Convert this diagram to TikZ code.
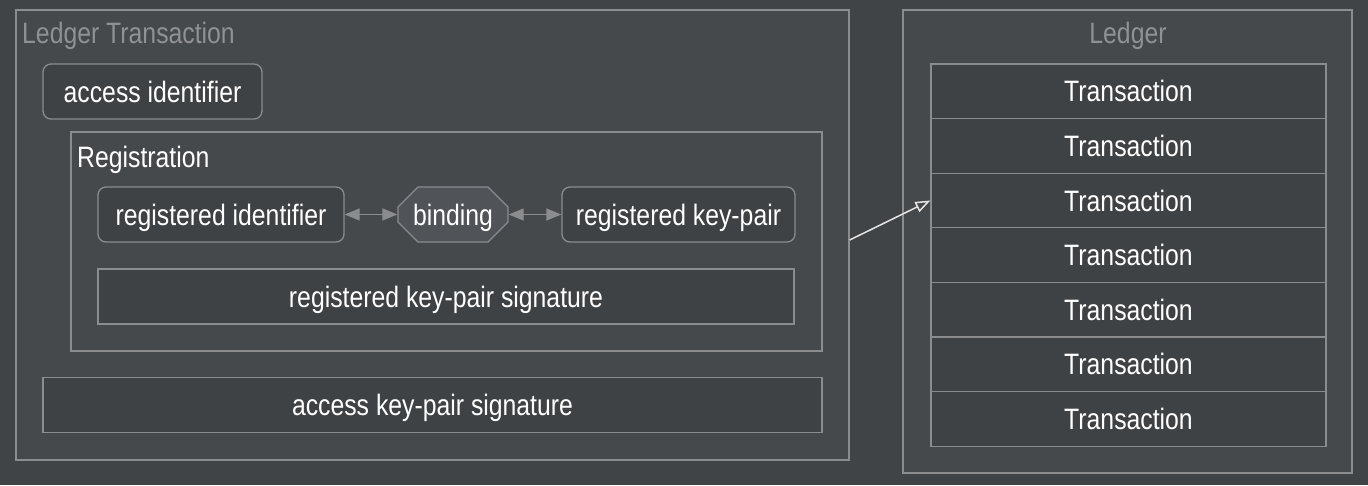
\documentclass[tikz,border=0pt]{standalone}
\usepackage{fontspec}
\setmainfont[FakeStretch=0.84]{Liberation Sans}
\usetikzlibrary{shapes.misc,arrows.meta}
\definecolor{bg}{HTML}{414447}
\definecolor{clfill}{HTML}{46494C}
\definecolor{ndfill}{HTML}{3F4245}
\definecolor{bdfill}{HTML}{505357}
\definecolor{edge}{HTML}{8A8C8E}
\definecolor{lbl}{HTML}{8F9193}
\definecolor{arr}{HTML}{E6E6E6}
\tikzset{
  txt/.style={font=\fontsize{29.5}{34}\selectfont, text height=21pt, text depth=0pt, inner sep=0pt},
  cluster/.style={draw=edge, fill=clfill, line width=1.3pt, rectangle, inner sep=0pt},
  roundbox/.style={txt, text=white, draw=edge, fill=ndfill, line width=1.3pt, rounded corners=8pt, minimum height=55pt},
  sqbox/.style={txt, text=white, draw=edge, fill=ndfill, line width=1.3pt, minimum height=55pt},
  octbox/.style={txt, text=white, draw=edge, fill=bdfill, line width=1.3pt, chamfered rectangle, chamfered rectangle xsep=10pt, chamfered rectangle ysep=10pt, minimum width=110pt, minimum height=55pt},
  cell/.style={txt, text=white, draw=edge, fill=ndfill, line width=1.3pt, minimum width=395pt, minimum height=54.6pt},
  biarrow/.style={draw=edge, line width=1.3pt, {Triangle[length=15pt,width=12pt]}-{Triangle[length=15pt,width=12pt]}},
  linkarrow/.style={draw=arr, line width=1.5pt, -{Triangle[open,length=15pt,width=11pt]}}
}
\begin{document}
\begin{tikzpicture}[x=1pt,y=-1pt]
\fill[bg] (0,0) rectangle (1368,485);
\useasboundingbox (0,0) rectangle (1368,485);
% Ledger Transaction cluster
\node[cluster, minimum width=833pt, minimum height=450pt] (lt) at (432.5,235) {};
\node[txt, text=lbl, anchor=west] (ltlabel) at (22,33) {Ledger Transaction};
\node[roundbox, minimum width=219pt] (ai) at (152.5,91.5) {access identifier};
% Registration cluster
\node[cluster, minimum width=751pt, minimum height=219pt] (reg) at (446.5,241.5) {};
\node[txt, text=white, anchor=west] (reglabel) at (77,157) {Registration};
\node[roundbox, minimum width=246pt] (ri) at (221,214.5) {registered identifier};
\node[octbox] (bind) at (453,214.5) {binding};
\node[roundbox, minimum width=233pt] (rk) at (678.5,214.5) {registered key-pair};
\node[sqbox, minimum width=696pt] (rks) at (446,296.5) {registered key-pair signature};
\node[sqbox, minimum width=779pt] (aks) at (432.5,405) {access key-pair signature};
\draw[biarrow] (ri.east) -- (bind.west);
\draw[biarrow] (bind.east) -- (rk.west);
% Ledger cluster
\node[cluster, minimum width=449pt, minimum height=463pt] (ledger) at (1127.5,241.5) {};
\node[txt, text=lbl] (ledgerlabel) at (1128,33) {Ledger};
\foreach \i in {1,...,7}{
  \node[cell] (t\i) at (1128.5,{64+54.6*(\i-0.5)}) {Transaction};
}
\draw[linkarrow] ([yshift=-5pt]lt.east) -- (t3.west);
\end{tikzpicture}
\end{document}
